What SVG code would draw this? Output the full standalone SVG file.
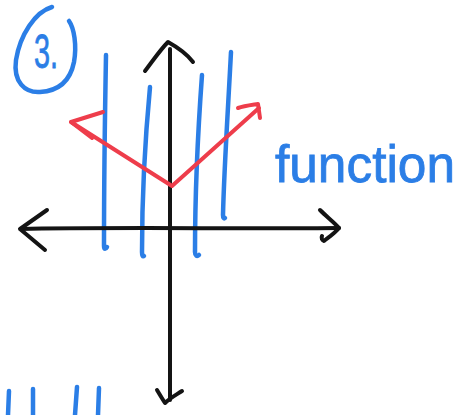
<svg xmlns="http://www.w3.org/2000/svg" width="469" height="415" viewBox="0 0 469 415">
<style>
.s{fill:none;stroke-linecap:round;stroke-linejoin:round}
.b{stroke:#2b7ee6;stroke-width:4.5}
.k{stroke:#141414;stroke-width:4}
.r{stroke:#ee3d4b;stroke-width:4}
.t{font-family:"Liberation Sans",Arial,sans-serif;fill:#2b7ee6;stroke:#2b7ee6;stroke-width:0.8}
</style>
<rect width="469" height="415" fill="#ffffff"/>
<g id="label-3">
<path class="s b" d="M52,7 C35,12 20,35 16,60 C13,82 25,93 40,92 C58,91 70,82 74,62 C77,45 74,28 69,21"/>
<text class="t" x="34" y="68" font-size="48" textLength="24" lengthAdjust="spacingAndGlyphs">3.</text>
</g>
<g id="vertical-lines">
<path class="s b" d="M106,55 C105,110 104,180 104,246 C104,250 106,249 107,247"/>
<path class="s b" d="M150,87 C145,140 142,200 142,252 C142,256 143,257 144,256"/>
<path class="s b" d="M202,75 C198,130 195,200 195,252 C195,256 197,257 199,255"/>
<path class="s b" d="M231,52 C228,110 224,170 223,215 C223,218 224,219 225,218"/>
</g>
<g id="axes">
<path class="s k" d="M21,229 C100,227 250,229 339,228"/>
<path class="s k" d="M47,210 L20,229 L45,250"/>
<path class="s k" d="M320,210 C327,217 335,223 339,228 C335,233 329,237 324,241 C322,240 321,238 322,236"/>
<path class="s k" d="M170,49 C170,150 170,300 170,400"/>
<path class="s k" d="M145,71 C152,62 160,50 168,42 C177,47 187,54 193,62"/>
<path class="s k" d="M157,390 C160,395 163,400 165,403 C170,398 176,395 182,391"/>
</g>
<g id="red-function">
<path class="s r" d="M71,122 L172,186 L259,108"/>
<path class="s r" d="M103,112 L71,122 L92,138"/>
<path class="s r" d="M238,108 C244,106 252,105 258,104 L260,118"/>
</g>
<g id="function-text">
<text class="t" x="275" y="182" font-size="52" textLength="180" lengthAdjust="spacingAndGlyphs">function</text>
</g>
<g id="bottom-marks">
<path class="s b" d="M9,391 L8,415"/>
<path class="s b" d="M33,389 L33,415"/>
<path class="s b" d="M77,387 L75,415"/>
<path class="s b" d="M99,388 L98,415"/>
</g>
</svg>
